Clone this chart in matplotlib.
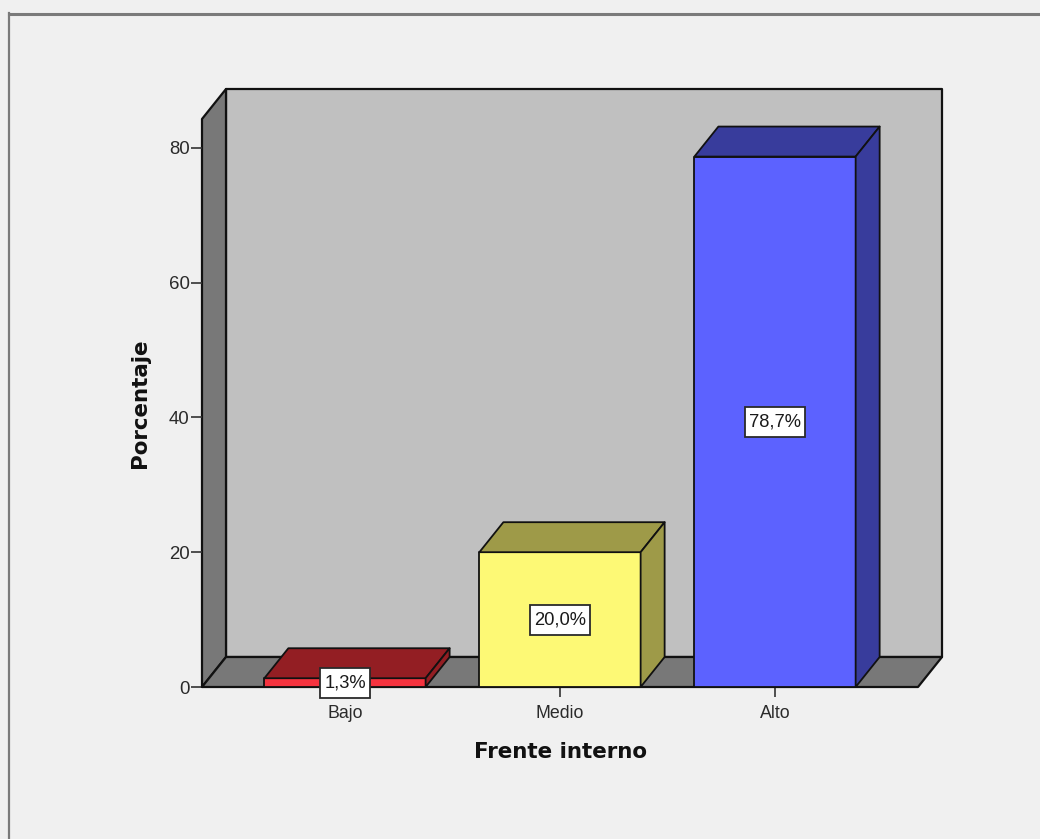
import matplotlib
matplotlib.use('Agg')
import matplotlib.pyplot as plt
from matplotlib.patches import Polygon, Rectangle

categories = ['Bajo', 'Medio', 'Alto']
percent = [1.3, 20.0, 78.7]
percent_labels = ['1,3%', '20,0%', '78,7%']
yticks = [0, 20, 40, 60, 80]

front_colors = ['#f5333f', '#fdf975', '#5c62ff']
top_colors = ['#931e23', '#9e9a48', '#383c9c']
side_colors = ['#931e23', '#9e9a48', '#383c9c']

W, H = 1040, 839
plt.rcParams['font.family'] = ['Liberation Sans', 'DejaVu Sans']

fig = plt.figure(figsize=(W / 100, H / 100), dpi=100, facecolor='#f0f0f0')
# front face of the box, in pixels from the reference
left, right, bottom, top = 202, 918, 687, 119
ax = fig.add_axes([left / W, 1 - bottom / H, (right - left) / W, (bottom - top) / H])
ax.set_xlim(-0.665, 2.665)
ax.set_ylim(0, (bottom - top) / 6.74)
ax.patch.set_visible(False)
for s in ax.spines.values():
    s.set_visible(False)

# depth of the fake 3d, converted to data units
x0, x1 = ax.get_xlim()
y0, y1 = ax.get_ylim()
px_x = (x1 - x0) / (right - left)
px_y = (y1 - y0) / (bottom - top)
dx = 24 * px_x
dy = 30 * px_y
edge = '#111111'


def face(pts, color, z, lw=1.3):
    ax.add_patch(Polygon(pts, closed=True, facecolor=color, edgecolor=edge,
                         linewidth=lw, joinstyle='round', clip_on=False, zorder=z))


# walls and floor
face([(x0 + dx, y0 + dy), (x1 + dx, y0 + dy), (x1 + dx, y1 + dy), (x0 + dx, y1 + dy)], '#c0c0c0', 1, 1.6)
face([(x0, y0), (x0 + dx, y0 + dy), (x0 + dx, y1 + dy), (x0, y1)], '#787878', 1.5, 1.6)
face([(x0, y0), (x1, y0), (x1 + dx, y0 + dy), (x0 + dx, y0 + dy)], '#787878', 1.6, 1.6)

# bars
width = 0.75
for i, v in enumerate(percent):
    a, b = i - width / 2, i + width / 2
    z = 3 + i
    face([(a, 0), (b, 0), (b, v), (a, v)], front_colors[i], z)
    face([(a, v), (b, v), (b + dx, v + dy), (a + dx, v + dy)], top_colors[i], z)
    face([(b, 0), (b + dx, dy), (b + dx, v + dy), (b, v)], side_colors[i], z)

# value boxes, centred on each bar
box_h = 30 * px_y
box_widths = [50, 60, 60]
for i, v in enumerate(percent):
    bw = box_widths[i] * px_x
    ax.add_patch(Rectangle((i - bw / 2, v / 2 - box_h / 2), bw, box_h, facecolor='white',
                           edgecolor='#2a2a2a', linewidth=1.3, clip_on=False, zorder=10))
    ax.text(i, v / 2, percent_labels[i], ha='center', va='center',
            fontsize=13.2, color='#1a1a1a', zorder=11, clip_on=False)

ax.set_xticks(range(len(categories)))
ax.set_xticklabels(categories, fontsize=12.8, color='#2a2a2a')
ax.set_yticks(yticks)
ax.set_yticklabels([str(t) for t in yticks], fontsize=13.4, color='#2a2a2a')
ax.tick_params(axis='y', length=8, width=1.2, color='#333333', pad=1)
ax.tick_params(axis='x', length=7, width=1.2, color='#333333', pad=6)

ax.set_xlabel('Frente interno', fontsize=15.4, fontweight='bold', family='DejaVu Sans', labelpad=14, color='#111111')
ax.set_ylabel('Porcentaje', fontsize=15.4, fontweight='bold', family='DejaVu Sans', labelpad=13, color='#111111')

# outer frame of the output window, open at right and bottom
fig.add_artist(plt.Line2D([8.5 / W, 8.5 / W], [0, 1 - 13 / H], color='#7a7a7a', linewidth=1.6))
fig.add_artist(plt.Line2D([9 / W, 1], [1 - 13.5 / H, 1 - 13.5 / H], color='#7a7a7a', linewidth=2.2))

fig.savefig('out.png', dpi=100, facecolor=fig.get_facecolor())
